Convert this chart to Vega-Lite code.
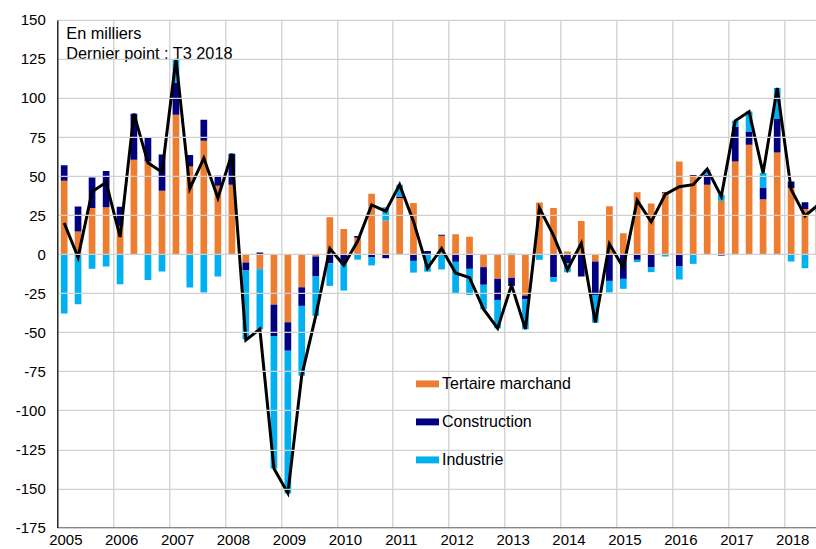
{
  "$schema": "https://vega.github.io/schema/vega-lite/v6.json",
  "width": 760,
  "height": 507.6,
  "autosize": {"type": "none"},
  "padding": {"left": 57.3, "top": 19.9, "right": 0, "bottom": 21.5},
  "background": "white",
  "config": {
    "font": "Liberation Sans",
    "view": {"stroke": null},
    "axis": {"labelFont": "Liberation Sans", "labelColor": "#000000", "titleColor": "#000000"}
  },
  "title": {
    "text": "En milliers",
    "subtitle": "Dernier point : T3 2018",
    "anchor": "start",
    "frame": "group",
    "orient": "top",
    "offset": -49,
    "dx": 9,
    "font": "Liberation Sans",
    "fontSize": 16.3,
    "fontWeight": "normal",
    "color": "#000000",
    "subtitleFont": "Liberation Sans",
    "subtitleFontSize": 16.3,
    "subtitleColor": "#000000",
    "subtitlePadding": 3
  },
  "datasets": {
    "secteurs": [
      {"trimestre": "2005-01-01", "secteur": "Tertaire marchand", "valeur": 47}, {"trimestre": "2005-01-01", "secteur": "Construction", "valeur": 10}, {"trimestre": "2005-01-01", "secteur": "Industrie", "valeur": -38},
      {"trimestre": "2005-04-01", "secteur": "Tertaire marchand", "valeur": 14.5}, {"trimestre": "2005-04-01", "secteur": "Construction", "valeur": 16}, {"trimestre": "2005-04-01", "secteur": "Industrie", "valeur": -32},
      {"trimestre": "2005-07-01", "secteur": "Tertaire marchand", "valeur": 29.5}, {"trimestre": "2005-07-01", "secteur": "Construction", "valeur": 19.6}, {"trimestre": "2005-07-01", "secteur": "Industrie", "valeur": -9.4},
      {"trimestre": "2005-10-01", "secteur": "Tertaire marchand", "valeur": 30}, {"trimestre": "2005-10-01", "secteur": "Construction", "valeur": 23.3}, {"trimestre": "2005-10-01", "secteur": "Industrie", "valeur": -7.9},
      {"trimestre": "2006-01-01", "secteur": "Tertaire marchand", "valeur": 18}, {"trimestre": "2006-01-01", "secteur": "Construction", "valeur": 12.4}, {"trimestre": "2006-01-01", "secteur": "Industrie", "valeur": -19.2},
      {"trimestre": "2006-04-01", "secteur": "Tertaire marchand", "valeur": 60.4}, {"trimestre": "2006-04-01", "secteur": "Construction", "valeur": 29.5}, {"trimestre": "2006-04-01", "secteur": "Industrie", "valeur": 0},
      {"trimestre": "2006-07-01", "secteur": "Tertaire marchand", "valeur": 59.4}, {"trimestre": "2006-07-01", "secteur": "Construction", "valeur": 15.4}, {"trimestre": "2006-07-01", "secteur": "Industrie", "valeur": -16.5},
      {"trimestre": "2006-10-01", "secteur": "Tertaire marchand", "valeur": 40.6}, {"trimestre": "2006-10-01", "secteur": "Construction", "valeur": 23.3}, {"trimestre": "2006-10-01", "secteur": "Industrie", "valeur": -11.1},
      {"trimestre": "2007-01-01", "secteur": "Tertaire marchand", "valeur": 89.3}, {"trimestre": "2007-01-01", "secteur": "Construction", "valeur": 20.3}, {"trimestre": "2007-01-01", "secteur": "Industrie", "valeur": 15.4},
      {"trimestre": "2007-04-01", "secteur": "Tertaire marchand", "valeur": 56.2}, {"trimestre": "2007-04-01", "secteur": "Construction", "valeur": 7.3}, {"trimestre": "2007-04-01", "secteur": "Industrie", "valeur": -21.4},
      {"trimestre": "2007-07-01", "secteur": "Tertaire marchand", "valeur": 72.6}, {"trimestre": "2007-07-01", "secteur": "Construction", "valeur": 13.5}, {"trimestre": "2007-07-01", "secteur": "Industrie", "valeur": -24.6},
      {"trimestre": "2007-10-01", "secteur": "Tertaire marchand", "valeur": 43.8}, {"trimestre": "2007-10-01", "secteur": "Construction", "valeur": 6.4}, {"trimestre": "2007-10-01", "secteur": "Industrie", "valeur": -14.3},
      {"trimestre": "2008-01-01", "secteur": "Tertaire marchand", "valeur": 44.4}, {"trimestre": "2008-01-01", "secteur": "Construction", "valeur": 19.7}, {"trimestre": "2008-01-01", "secteur": "Industrie", "valeur": 0.3},
      {"trimestre": "2008-04-01", "secteur": "Tertaire marchand", "valeur": -5.4}, {"trimestre": "2008-04-01", "secteur": "Construction", "valeur": -5.1}, {"trimestre": "2008-04-01", "secteur": "Industrie", "valeur": -44},
      {"trimestre": "2008-07-01", "secteur": "Tertaire marchand", "valeur": -9.6}, {"trimestre": "2008-07-01", "secteur": "Construction", "valeur": 1}, {"trimestre": "2008-07-01", "secteur": "Industrie", "valeur": -38.5},
      {"trimestre": "2008-10-01", "secteur": "Tertaire marchand", "valeur": -32.3}, {"trimestre": "2008-10-01", "secteur": "Construction", "valeur": -20.1}, {"trimestre": "2008-10-01", "secteur": "Industrie", "valeur": -84.8},
      {"trimestre": "2009-01-01", "secteur": "Tertaire marchand", "valeur": -43.6}, {"trimestre": "2009-01-01", "secteur": "Construction", "valeur": -18.2}, {"trimestre": "2009-01-01", "secteur": "Industrie", "valeur": -91.4},
      {"trimestre": "2009-04-01", "secteur": "Tertaire marchand", "valeur": -21.2}, {"trimestre": "2009-04-01", "secteur": "Construction", "valeur": -11.9}, {"trimestre": "2009-04-01", "secteur": "Industrie", "valeur": -44.7},
      {"trimestre": "2009-07-01", "secteur": "Tertaire marchand", "valeur": -1.5}, {"trimestre": "2009-07-01", "secteur": "Construction", "valeur": -12.8}, {"trimestre": "2009-07-01", "secteur": "Industrie", "valeur": -25.2},
      {"trimestre": "2009-10-01", "secteur": "Tertaire marchand", "valeur": 23.7}, {"trimestre": "2009-10-01", "secteur": "Construction", "valeur": -5.8}, {"trimestre": "2009-10-01", "secteur": "Industrie", "valeur": -14.5},
      {"trimestre": "2010-01-01", "secteur": "Tertaire marchand", "valeur": 16.2}, {"trimestre": "2010-01-01", "secteur": "Construction", "valeur": -5.8}, {"trimestre": "2010-01-01", "secteur": "Industrie", "valeur": -17.5},
      {"trimestre": "2010-04-01", "secteur": "Tertaire marchand", "valeur": 10.5}, {"trimestre": "2010-04-01", "secteur": "Construction", "valeur": 1.2}, {"trimestre": "2010-04-01", "secteur": "Industrie", "valeur": -3.5},
      {"trimestre": "2010-07-01", "secteur": "Tertaire marchand", "valeur": 38.7}, {"trimestre": "2010-07-01", "secteur": "Construction", "valeur": -2.1}, {"trimestre": "2010-07-01", "secteur": "Industrie", "valeur": -5.1},
      {"trimestre": "2010-10-01", "secteur": "Tertaire marchand", "valeur": 21.5}, {"trimestre": "2010-10-01", "secteur": "Construction", "valeur": -2.6}, {"trimestre": "2010-10-01", "secteur": "Industrie", "valeur": 8.6},
      {"trimestre": "2011-01-01", "secteur": "Tertaire marchand", "valeur": 35.9}, {"trimestre": "2011-01-01", "secteur": "Construction", "valeur": 1.1}, {"trimestre": "2011-01-01", "secteur": "Industrie", "valeur": 7.4},
      {"trimestre": "2011-04-01", "secteur": "Tertaire marchand", "valeur": 32.7}, {"trimestre": "2011-04-01", "secteur": "Construction", "valeur": -4.3}, {"trimestre": "2011-04-01", "secteur": "Industrie", "valeur": -7.5},
      {"trimestre": "2011-07-01", "secteur": "Tertaire marchand", "valeur": 0}, {"trimestre": "2011-07-01", "secteur": "Construction", "valeur": 2}, {"trimestre": "2011-07-01", "secteur": "Industrie", "valeur": -11.2},
      {"trimestre": "2011-10-01", "secteur": "Tertaire marchand", "valeur": 11.8}, {"trimestre": "2011-10-01", "secteur": "Construction", "valeur": 0.6}, {"trimestre": "2011-10-01", "secteur": "Industrie", "valeur": -9.8},
      {"trimestre": "2012-01-01", "secteur": "Tertaire marchand", "valeur": 12.8}, {"trimestre": "2012-01-01", "secteur": "Construction", "valeur": -4.9}, {"trimestre": "2012-01-01", "secteur": "Industrie", "valeur": -20.1},
      {"trimestre": "2012-04-01", "secteur": "Tertaire marchand", "valeur": 11.1}, {"trimestre": "2012-04-01", "secteur": "Construction", "valeur": -9.4}, {"trimestre": "2012-04-01", "secteur": "Industrie", "valeur": -16.7},
      {"trimestre": "2012-07-01", "secteur": "Tertaire marchand", "valeur": -8.3}, {"trimestre": "2012-07-01", "secteur": "Construction", "valeur": -11.3}, {"trimestre": "2012-07-01", "secteur": "Industrie", "valeur": -15.6},
      {"trimestre": "2012-10-01", "secteur": "Tertaire marchand", "valeur": -15.8}, {"trimestre": "2012-10-01", "secteur": "Construction", "valeur": -13.5}, {"trimestre": "2012-10-01", "secteur": "Industrie", "valeur": -18.2},
      {"trimestre": "2013-01-01", "secteur": "Tertaire marchand", "valeur": -15.2}, {"trimestre": "2013-01-01", "secteur": "Construction", "valeur": -5.1}, {"trimestre": "2013-01-01", "secteur": "Industrie", "valeur": 0.5},
      {"trimestre": "2013-04-01", "secteur": "Tertaire marchand", "valeur": -26.5}, {"trimestre": "2013-04-01", "secteur": "Construction", "valeur": -2.4}, {"trimestre": "2013-04-01", "secteur": "Industrie", "valeur": -19.2},
      {"trimestre": "2013-07-01", "secteur": "Tertaire marchand", "valeur": 33.1}, {"trimestre": "2013-07-01", "secteur": "Construction", "valeur": 0}, {"trimestre": "2013-07-01", "secteur": "Industrie", "valeur": -3.6},
      {"trimestre": "2013-10-01", "secteur": "Tertaire marchand", "valeur": 29.5}, {"trimestre": "2013-10-01", "secteur": "Construction", "valeur": -14.7}, {"trimestre": "2013-10-01", "secteur": "Industrie", "valeur": -3},
      {"trimestre": "2014-01-01", "secteur": "Tertaire marchand", "valeur": 1.7}, {"trimestre": "2014-01-01", "secteur": "Construction", "valeur": -5.8}, {"trimestre": "2014-01-01", "secteur": "Industrie", "valeur": -5.8},
      {"trimestre": "2014-04-01", "secteur": "Tertaire marchand", "valeur": 21.3}, {"trimestre": "2014-04-01", "secteur": "Construction", "valeur": -14.3}, {"trimestre": "2014-04-01", "secteur": "Industrie", "valeur": 0},
      {"trimestre": "2014-07-01", "secteur": "Tertaire marchand", "valeur": -4.7}, {"trimestre": "2014-07-01", "secteur": "Construction", "valeur": -21.4}, {"trimestre": "2014-07-01", "secteur": "Industrie", "valeur": -17.7},
      {"trimestre": "2014-10-01", "secteur": "Tertaire marchand", "valeur": 30.7}, {"trimestre": "2014-10-01", "secteur": "Construction", "valeur": -17.1}, {"trimestre": "2014-10-01", "secteur": "Industrie", "valeur": -7.4},
      {"trimestre": "2015-01-01", "secteur": "Tertaire marchand", "valeur": 13.4}, {"trimestre": "2015-01-01", "secteur": "Construction", "valeur": -15.8}, {"trimestre": "2015-01-01", "secteur": "Industrie", "valeur": -6.4},
      {"trimestre": "2015-04-01", "secteur": "Tertaire marchand", "valeur": 39.7}, {"trimestre": "2015-04-01", "secteur": "Construction", "valeur": -3.6}, {"trimestre": "2015-04-01", "secteur": "Industrie", "valeur": -1.5},
      {"trimestre": "2015-07-01", "secteur": "Tertaire marchand", "valeur": 32.4}, {"trimestre": "2015-07-01", "secteur": "Construction", "valeur": -8.5}, {"trimestre": "2015-07-01", "secteur": "Industrie", "valeur": -3},
      {"trimestre": "2015-10-01", "secteur": "Tertaire marchand", "valeur": 39.1}, {"trimestre": "2015-10-01", "secteur": "Construction", "valeur": 0.6}, {"trimestre": "2015-10-01", "secteur": "Industrie", "valeur": -1.5},
      {"trimestre": "2016-01-01", "secteur": "Tertaire marchand", "valeur": 59.4}, {"trimestre": "2016-01-01", "secteur": "Construction", "valeur": -7.9}, {"trimestre": "2016-01-01", "secteur": "Industrie", "valeur": -8.3},
      {"trimestre": "2016-04-01", "secteur": "Tertaire marchand", "valeur": 49.4}, {"trimestre": "2016-04-01", "secteur": "Construction", "valeur": 1.3}, {"trimestre": "2016-04-01", "secteur": "Industrie", "valeur": -6.2},
      {"trimestre": "2016-07-01", "secteur": "Tertaire marchand", "valeur": 44.4}, {"trimestre": "2016-07-01", "secteur": "Construction", "valeur": 6.4}, {"trimestre": "2016-07-01", "secteur": "Industrie", "valeur": 3.2},
      {"trimestre": "2016-10-01", "secteur": "Tertaire marchand", "valeur": 34.2}, {"trimestre": "2016-10-01", "secteur": "Construction", "valeur": -0.9}, {"trimestre": "2016-10-01", "secteur": "Industrie", "valeur": 3.8},
      {"trimestre": "2017-01-01", "secteur": "Tertaire marchand", "valeur": 59.4}, {"trimestre": "2017-01-01", "secteur": "Construction", "valeur": 22.4}, {"trimestre": "2017-01-01", "secteur": "Industrie", "valeur": 3.6},
      {"trimestre": "2017-04-01", "secteur": "Tertaire marchand", "valeur": 70}, {"trimestre": "2017-04-01", "secteur": "Construction", "valeur": 8.5}, {"trimestre": "2017-04-01", "secteur": "Industrie", "valeur": 12.8},
      {"trimestre": "2017-07-01", "secteur": "Tertaire marchand", "valeur": 35.2}, {"trimestre": "2017-07-01", "secteur": "Construction", "valeur": 7.5}, {"trimestre": "2017-07-01", "secteur": "Industrie", "valeur": 9.2},
      {"trimestre": "2017-10-01", "secteur": "Tertaire marchand", "valeur": 65.1}, {"trimestre": "2017-10-01", "secteur": "Construction", "valeur": 21.4}, {"trimestre": "2017-10-01", "secteur": "Industrie", "valeur": 19.9},
      {"trimestre": "2018-01-01", "secteur": "Tertaire marchand", "valeur": 42.3}, {"trimestre": "2018-01-01", "secteur": "Construction", "valeur": 4.3}, {"trimestre": "2018-01-01", "secteur": "Industrie", "valeur": -4.7},
      {"trimestre": "2018-04-01", "secteur": "Tertaire marchand", "valeur": 29}, {"trimestre": "2018-04-01", "secteur": "Construction", "valeur": 4.3}, {"trimestre": "2018-04-01", "secteur": "Industrie", "valeur": -9},
      {"trimestre": "2018-07-01", "secteur": "Tertaire marchand", "valeur": 27}, {"trimestre": "2018-07-01", "secteur": "Construction", "valeur": 3}, {"trimestre": "2018-07-01", "secteur": "Industrie", "valeur": 2}
    ],
    "total": [
      {"trimestre": "2005-01-01", "total": 20}, {"trimestre": "2005-04-01", "total": -2}, {"trimestre": "2005-07-01", "total": 40}, {"trimestre": "2005-10-01", "total": 46},
      {"trimestre": "2006-01-01", "total": 11}, {"trimestre": "2006-04-01", "total": 90}, {"trimestre": "2006-07-01", "total": 58.5}, {"trimestre": "2006-10-01", "total": 52.5},
      {"trimestre": "2007-01-01", "total": 125}, {"trimestre": "2007-04-01", "total": 42}, {"trimestre": "2007-07-01", "total": 61.5}, {"trimestre": "2007-10-01", "total": 36},
      {"trimestre": "2008-01-01", "total": 64.3}, {"trimestre": "2008-04-01", "total": -55}, {"trimestre": "2008-07-01", "total": -48}, {"trimestre": "2008-10-01", "total": -137.2},
      {"trimestre": "2009-01-01", "total": -153}, {"trimestre": "2009-04-01", "total": -77.8}, {"trimestre": "2009-07-01", "total": -39.5}, {"trimestre": "2009-10-01", "total": 3.6},
      {"trimestre": "2010-01-01", "total": -7}, {"trimestre": "2010-04-01", "total": 8.2}, {"trimestre": "2010-07-01", "total": 31.5}, {"trimestre": "2010-10-01", "total": 27.5},
      {"trimestre": "2011-01-01", "total": 44.5}, {"trimestre": "2011-04-01", "total": 21}, {"trimestre": "2011-07-01", "total": -9}, {"trimestre": "2011-10-01", "total": 3.6},
      {"trimestre": "2012-01-01", "total": -12}, {"trimestre": "2012-04-01", "total": -15}, {"trimestre": "2012-07-01", "total": -35.2}, {"trimestre": "2012-10-01", "total": -47.5},
      {"trimestre": "2013-01-01", "total": -19.8}, {"trimestre": "2013-04-01", "total": -48}, {"trimestre": "2013-07-01", "total": 29.5}, {"trimestre": "2013-10-01", "total": 12},
      {"trimestre": "2014-01-01", "total": -9.9}, {"trimestre": "2014-04-01", "total": 7}, {"trimestre": "2014-07-01", "total": -43.8}, {"trimestre": "2014-10-01", "total": 6.5},
      {"trimestre": "2015-01-01", "total": -8.6}, {"trimestre": "2015-04-01", "total": 34.4}, {"trimestre": "2015-07-01", "total": 20.7}, {"trimestre": "2015-10-01", "total": 38.3},
      {"trimestre": "2016-01-01", "total": 43.2}, {"trimestre": "2016-04-01", "total": 44.5}, {"trimestre": "2016-07-01", "total": 54.5}, {"trimestre": "2016-10-01", "total": 37},
      {"trimestre": "2017-01-01", "total": 85.4}, {"trimestre": "2017-04-01", "total": 91.3}, {"trimestre": "2017-07-01", "total": 51.9}, {"trimestre": "2017-10-01", "total": 106.4},
      {"trimestre": "2018-01-01", "total": 41.5}, {"trimestre": "2018-04-01", "total": 24.5}, {"trimestre": "2018-07-01", "total": 32}
    ]
  },
  "layer": [
    {
      "data": {"name": "secteurs"},
      "transform": [
        {"calculate": "indexof(['Tertaire marchand', 'Construction', 'Industrie'], datum.secteur)", "as": "ordre"}
      ],
      "mark": {"type": "bar", "width": 6.7, "clip": true},
      "encoding": {
        "x": {
          "field": "trimestre",
          "timeUnit": "utcyearquarter",
          "type": "temporal",
          "bandPosition": 0.5,
          "scale": {"type": "utc", "domain": [{"year": 2005, "month": 1, "date": 1, "utc": true}, {"year": 2018, "month": 8, "date": 5, "utc": true}]},
          "axis": {
            "title": null,
            "format": "%Y",
            "tickCount": {"interval": "year", "step": 1},
            "ticks": false,
            "grid": true,
            "gridColor": "#d0d0d0",
            "gridWidth": 1.3,
            "domainColor": "#404040",
            "domainWidth": 1.6,
            "labelFontSize": 15,
            "labelPadding": 5,
            "labelOffset": 8,
            "labelFlush": false,
            "labelOverlap": false
          }
        },
        "y": {
          "field": "valeur",
          "type": "quantitative",
          "stack": "zero",
          "scale": {"domain": [-175, 150], "nice": false},
          "axis": {
            "title": null,
            "values": [-175, -150, -125, -100, -75, -50, -25, 0, 25, 50, 75, 100, 125, 150],
            "tickCount": 30,
            "labelExpr": "'' + datum.value",
            "labelOverlap": false,
            "labelFlush": false,
            "ticks": false,
            "grid": true,
            "gridColor": "#d0d0d0",
            "gridWidth": 1.3,
            "domainColor": "#000000",
            "domainWidth": 1.2,
            "labelFontSize": 15,
            "labelPadding": 12,
            "zindex": 1
          }
        },
        "order": {"field": "ordre", "type": "quantitative", "sort": "ascending"},
        "color": {
          "field": "secteur",
          "type": "nominal",
          "sort": ["Tertaire marchand", "Construction", "Industrie"],
          "scale": {"domain": ["Tertaire marchand", "Construction", "Industrie"], "range": ["#ED7D31", "#000080", "#00B0F0"]},
          "legend": {
            "title": null,
            "orient": "none",
            "legendX": 358.7,
            "legendY": 352.5,
            "padding": 0,
            "symbolType": "M-1,-0.3H1V0.3H-1Z",
            "symbolSize": 529,
            "symbolStrokeWidth": 0,
            "symbolOpacity": 1,
            "labelFont": "Liberation Sans",
            "labelFontSize": 16,
            "labelColor": "#000000",
            "labelOffset": 3,
            "rowPadding": 18
          }
        }
      }
    },
    {
      "mark": {"type": "rule", "color": "#000000", "strokeWidth": 1.2},
      "encoding": {"y": {"datum": 0}}
    },
    {
      "mark": {"type": "rule", "color": "#404040", "strokeWidth": 1.6},
      "encoding": {"y": {"datum": 150}}
    },
    {
      "data": {"name": "total"},
      "mark": {"type": "line", "color": "#000000", "strokeWidth": 3, "clip": true},
      "encoding": {
        "x": {"field": "trimestre", "timeUnit": "utcyearquarter", "type": "temporal", "bandPosition": 0.5},
        "y": {"field": "total", "type": "quantitative"}
      }
    }
  ]
}
